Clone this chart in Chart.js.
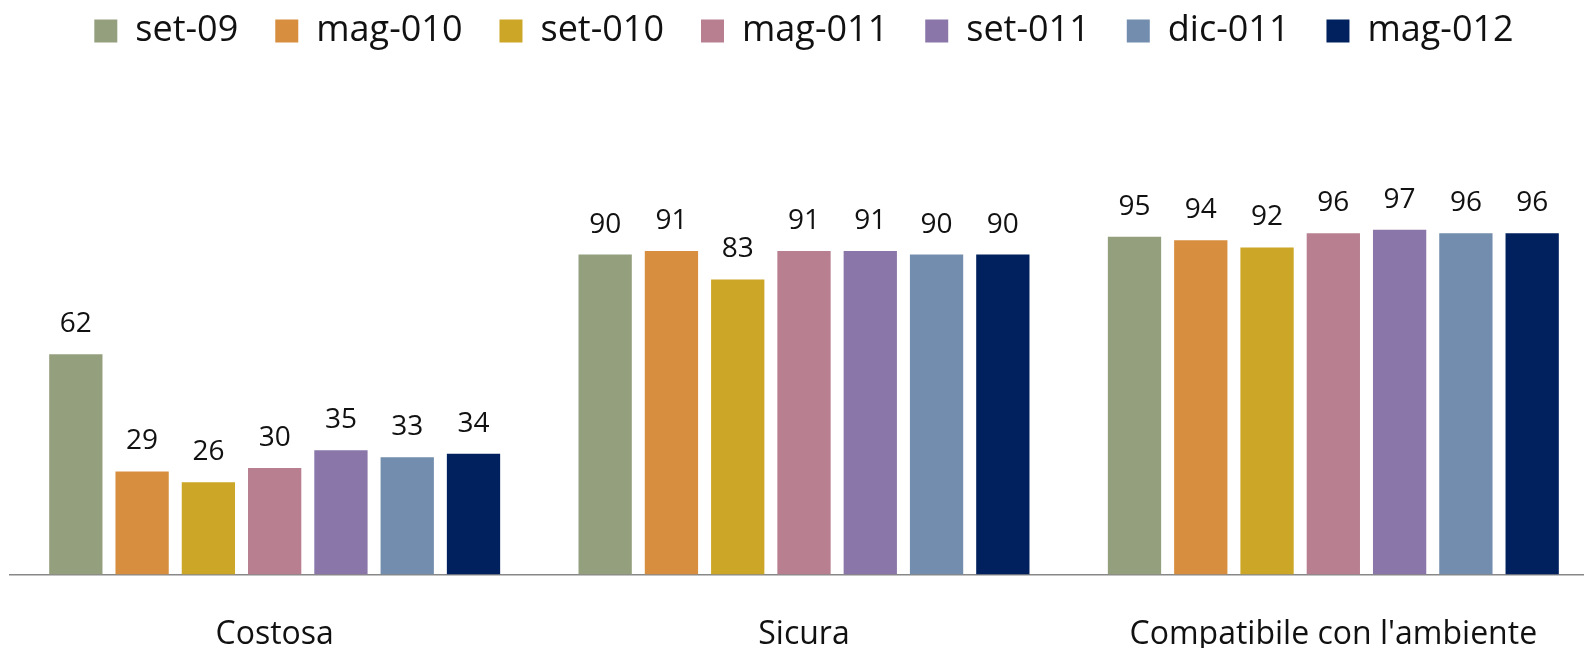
<!DOCTYPE html>
<html>
<head>
<meta charset="utf-8">
<script src="https://cdn.jsdelivr.net/npm/chart.js@4.4.1/dist/chart.umd.min.js"></script>
<style>
    html, body { margin: 0; padding: 0; background: #fff; overflow: hidden; }
    #wrap { position: relative; width: 1600px; height: 648px; }
</style>
</head>
<body>
<div id="wrap"><canvas id="chart"></canvas></div>
<script>
// categorie e serie
const categories = ['Costosa', 'Sicura', "Compatibile con l'ambiente"];
const seriesNames = ['set-09', 'mag-010', 'set-010', 'mag-011', 'set-011', 'dic-011', 'mag-012'];
const seriesColors = ['#949F7E', '#D78E3F', '#CCA626', '#B77F90', '#8A76A9', '#728DAD', '#00205E'];

const set09  = [62, 90, 95];
const mag010 = [29, 91, 94];
const set010 = [26, 83, 92];
const mag011 = [30, 91, 96];
const set011 = [35, 91, 97];
const dic011 = [33, 90, 96];
const mag012 = [34, 90, 96];

const seriesValues = [set09, mag010, set010, mag011, set011, dic011, mag012];

const yMax = 145;
const fontFamily = "'Open Sans', 'DejaVu Sans', sans-serif";

// etichette sopra le barre
const valueLabels = {
    id: 'valueLabels',
    afterDatasetsDraw(chart) {
        const ctx = chart.ctx;
        ctx.save();
        ctx.font = '28px ' + fontFamily;
        ctx.fillStyle = '#111';
        ctx.textAlign = 'center';
        ctx.textBaseline = 'alphabetic';
        chart.data.datasets.forEach((ds, i) => {
            const meta = chart.getDatasetMeta(i);
            meta.data.forEach((bar, j) => {
                ctx.fillText(String(ds.data[j]), bar.x, bar.y - 22);
            });
        });
        ctx.restore();
    }
};

const datasets = seriesNames.map((name, i) => ({
    label: name,
    data: seriesValues[i],
    backgroundColor: seriesColors[i],
    borderWidth: 0,
    barPercentage: 0.804,
    categoryPercentage: 0.8765
}));

new Chart(document.getElementById('chart'), {
    type: 'bar',
    data: { labels: categories, datasets: datasets },
    options: {
        responsive: true,
        maintainAspectRatio: false,
        animation: false,
        layout: { padding: { left: 10, right: 2, top: -24, bottom: -47 } },
        plugins: {
            legend: {
                position: 'top',
                labels: {
                    boxWidth: 23,
                    boxHeight: 23,
                    padding: 37,
                    color: '#111',
                    font: { family: fontFamily, size: 36 }
                }
            },
            tooltip: { enabled: false }
        },
        scales: {
            x: {
                grid: { display: false, drawTicks: false },
                border: { display: true, color: '#888', width: 1.5 },
                ticks: {
                    color: '#111',
                    padding: 41,
                    maxRotation: 0,
                    font: { family: fontFamily, size: 32 }
                }
            },
            y: {
                display: false,
                min: 0,
                max: yMax
            }
        }
    },
    plugins: [valueLabels]
});
</script>
</body>
</html>
